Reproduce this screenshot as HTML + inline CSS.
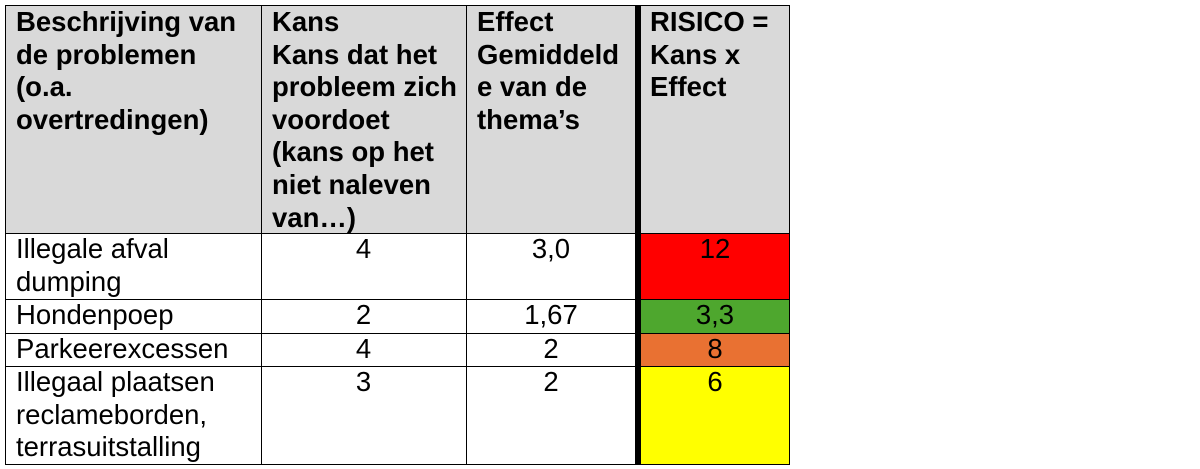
<!DOCTYPE html>
<html><head><style>
body{margin:0;width:1200px;height:469px;background:#fff;font-family:"Liberation Sans",Arial,sans-serif;position:relative;overflow:hidden}
.c{position:absolute;box-sizing:border-box;font-size:27.5px;line-height:32.6px;color:#000;white-space:nowrap}
.h{background:#d9d9d9;font-weight:bold;padding:0 0 0 11px}
.d{padding:0 0 0 11px}
.n{text-align:center;padding:0}
.vl{position:absolute;background:#000;width:1px}
.hl{position:absolute;background:#000;height:1px;left:5px;width:785px}
</style></head><body>
<div class="c h" style="left:5px;top:6px;width:256px;height:227px">Beschrijving van<br>de problemen<br>(o.a.<br>overtredingen)</div>
<div class="c h" style="left:261px;top:6px;width:205px;height:227px">Kans<br>Kans dat het<br>probleem zich<br>voordoet<br>(kans op het<br>niet naleven<br>van…)</div>
<div class="c h" style="left:466px;top:6px;width:170px;height:227px">Effect<br>Gemiddeld<br>e van de<br>thema’s</div>
<div class="c h" style="left:641px;top:6px;width:148px;height:227px;padding-left:9px">RISICO =<br>Kans x<br>Effect</div>

<div class="c d" style="left:5px;top:233px;width:256px;height:66px">Illegale afval<br>dumping</div>
<div class="c n" style="left:261px;top:233px;width:205px">4</div>
<div class="c n" style="left:466px;top:233px;width:170px">3,0</div>
<div class="c n" style="left:641px;top:233px;width:148px;height:66px;background:#ff0000">12</div>

<div class="c d" style="left:5px;top:299px;width:256px">Hondenpoep</div>
<div class="c n" style="left:261px;top:299px;width:205px">2</div>
<div class="c n" style="left:466px;top:299px;width:170px">1,67</div>
<div class="c n" style="left:641px;top:299px;width:148px;height:34px;background:#4ea72e">3,3</div>

<div class="c d" style="left:5px;top:333px;width:256px">Parkeerexcessen</div>
<div class="c n" style="left:261px;top:333px;width:205px">4</div>
<div class="c n" style="left:466px;top:333px;width:170px">2</div>
<div class="c n" style="left:641px;top:333px;width:148px;height:33px;background:#e97132">8</div>

<div class="c d" style="left:5px;top:366px;width:256px">Illegaal plaatsen<br>reclameborden,<br>terrasuitstalling</div>
<div class="c n" style="left:261px;top:366px;width:205px">3</div>
<div class="c n" style="left:466px;top:366px;width:170px">2</div>
<div class="c n" style="left:641px;top:366px;width:148px;height:98px;background:#ffff00">6</div>

<div class="hl" style="top:5px"></div>
<div class="hl" style="top:233px"></div>
<div class="hl" style="top:299px"></div>
<div class="hl" style="top:333px"></div>
<div class="hl" style="top:366px"></div>
<div class="hl" style="top:464px"></div>
<div class="vl" style="left:5px;top:5px;height:460px"></div>
<div class="vl" style="left:261px;top:5px;height:460px"></div>
<div class="vl" style="left:466px;top:5px;height:460px"></div>
<div class="vl" style="left:635px;top:5px;height:460px;width:6px"></div>
<div class="vl" style="left:789px;top:5px;height:460px"></div>
</body></html>
